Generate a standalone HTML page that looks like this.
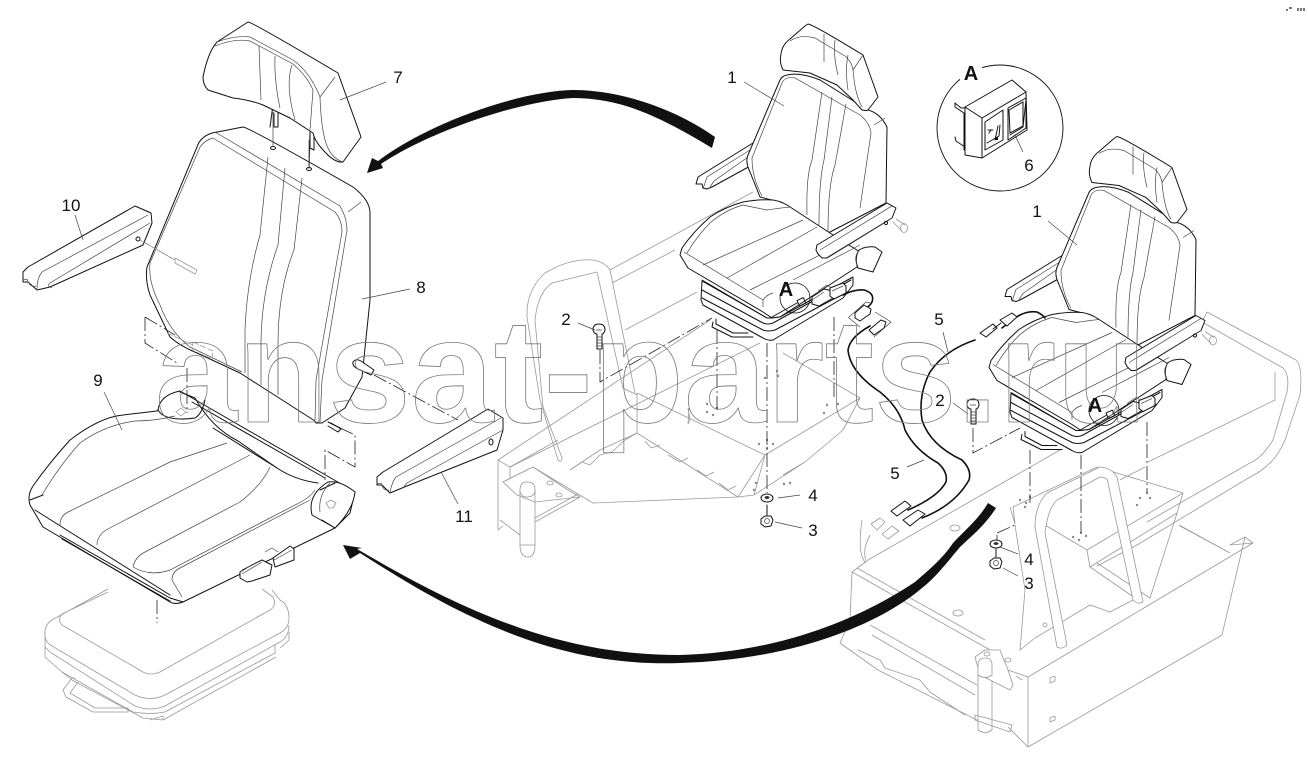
<!DOCTYPE html>
<html><head><meta charset="utf-8"><style>
html,body{margin:0;padding:0;background:#fff}
svg{display:block}
text{font-family:"Liberation Sans",sans-serif;fill:#111;font-size:17px;text-anchor:middle}
.k{fill:none;stroke:#111;stroke-width:1;stroke-linejoin:round;stroke-linecap:round}
.w{fill:#fff;stroke:#111;stroke-width:1;stroke-linejoin:round}
.t{fill:none;stroke:#444;stroke-width:.7}
.g{fill:none;stroke:#999;stroke-width:.8;stroke-linejoin:round}
.gw{fill:#fff;stroke:#999;stroke-width:.8;stroke-linejoin:round}
.d{fill:none;stroke:#222;stroke-width:.8;stroke-dasharray:14 3 2 3}
.dg{fill:none;stroke:#888;stroke-width:.7;stroke-dasharray:12 3 2 3}
.l{fill:none;stroke:#444;stroke-width:.7}
.c{fill:none;stroke:#111;stroke-width:1.6;stroke-linecap:round}
</style></head><body>
<svg width="1308" height="757" viewBox="0 0 1308 757" xmlns="http://www.w3.org/2000/svg">
<rect width="1308" height="757" fill="#fff"/>

<!-- CENTER FRAME -->
<g class="g">
<path d="M498,460 L710,320 M510,467 L760,343 M612,283 L675,250 M610,270 L753,192 M625,330 L697,292"/>
<path d="M498,460 L498,530 L503,526 M503,482 L533,467 L593,503 L738,497 L765,455 L860,398 L783,353 M637,393 L765,455 M637,393 L637,433 L738,497"/>
<path d="M738,497 L754,495 L805,462 L843,430 L860,398 M765,455 L754,495 M783,475 L805,462"/>
<path d="M498,460 L510,467 L510,482 M510,467 L558,440 M570,470 L600,450 L637,433"/>
<path d="M570,470 L582,462 L590,465 L600,455 L612,452 L625,440 L637,433"/>
<path d="M645,441 L651,448 L660,445 M668,455 L680,462 L688,458 M697,470 L706,476 L714,472 M719,483 L728,490 L736,486"/>
<path d="M558,460 Q562,463 562,458 L543,407 L535,320 Q538,292 552,283 L597,272 L623,388 L637,395"/>
<path d="M558,460 L540,400 L527,317 Q526,290 545,273 Q570,258 593,260 Q605,262 610,270 L635,393"/>
<path class="gw" d="M503,482 L533,467 L568,490 L580,497 L535,502 L517,495 Z"/>
<path d="M520,490 L520,545 Q520,557 528,557 Q535,557 535,545 L535,490"/>
<path class="gw" d="M520,490 Q520,482 527,482 Q535,482 535,490 Q535,497 527,497 Q520,497 520,490Z"/>
<path d="M535,522 L580,497 M535,518 L578,494 M500,520 L520,535 M520,545 L535,545"/>
<ellipse cx="550" cy="483" rx="3" ry="2"/><ellipse cx="559" cy="495" rx="3" ry="2"/>
<path d="M688,408 L690,420 L688,424 L689,408" />
</g>
<g fill="#888">
<circle cx="707" cy="412" r="1.2"/><circle cx="713" cy="415" r="1.2"/><circle cx="707" cy="404" r="1.2"/><circle cx="717" cy="408" r="1.2"/>
<circle cx="767" cy="440" r="1.2"/><circle cx="759" cy="444" r="1.2"/><circle cx="773" cy="444" r="1.2"/><circle cx="767" cy="448" r="1.2"/>
<circle cx="827" cy="405" r="1.2"/><circle cx="838" cy="404" r="1.2"/><circle cx="824" cy="413" r="1.2"/>
<circle cx="765" cy="378" r="1.2"/><circle cx="777" cy="371" r="1.2"/><circle cx="778" cy="376" r="1.2"/>
<circle cx="784" cy="484" r="1.2"/><circle cx="790" cy="483" r="1.2"/><circle cx="754" cy="490" r="1.2"/><circle cx="756" cy="483" r="1.2"/>
</g>

<!-- RIGHT FRAME -->
<g class="g">
<path d="M1207,312 L1296,360 Q1303,367 1300,395 L1285,440 Q1275,465 1250,477 L1137,545 L1097,566"/>
<path d="M1207,312 L1202,322 L1283,368 Q1290,375 1287,392 L1273,440 Q1262,458 1250,463 L1147,522"/>
<path d="M1148,462 L1275,400 L1275,372 M868,560 L1060,450 M1120,480 L1145,467"/>
<path d="M1010,507 L1015,524 L1013,507 L1097,467 L1183,493 L1177,513 L1090,567 L1087,550 L1183,493 M1087,550 L1045,525"/>
<path d="M1097,563 L1150,598 L1177,513 M1090,567 L1138,600"/>
<path d="M1179,525 L1230,553 L1180,526"/>
<path d="M852,572 L850,620 L840,643 L878,670 L977,720 M852,572 L990,650 L1008,670 L1028,677 L1253,543 L1245,537 L1222,635 L1028,747 L1008,727 M1028,677 L1028,747 M1245,537 L1230,545 L1253,543"/>
<path d="M857,568 L985,640 M870,625 L977,685 M872,635 L975,695 M858,650 L880,660 L885,668 L920,680 L930,692 L965,715"/>
<path d="M1015,525 L1025,590 L1020,650 L1035,638 L1090,605 L1110,612 L1133,600"/>
<path d="M1057,647 Q1062,650 1067,645 L1045,533 Q1048,508 1057,500 L1100,477 Q1108,477 1108,483 L1133,600 Q1138,605 1143,602 L1117,477 Q1112,468 1100,467 L1047,493 Q1035,505 1035,527 Z" fill="#fff"/>
<path class="gw" d="M978,670 L978,730 Q985,735 992,730 L992,670"/>
<path class="gw" d="M975,657 L985,650 L1000,650 L1008,670 L1013,685 L1010,690 L980,675 Z"/>
<path class="gw" d="M978,665 Q978,658 985,658 Q992,658 992,665 L992,675 Q985,680 978,675Z"/>
<path d="M975,715 L1012,725 L1010,732 L975,720Z"/>
<path d="M852,572 L868,560 M1016,676 L1022,680"/>
<ellipse cx="955" cy="528" rx="5" ry="3"/><ellipse cx="958" cy="613" rx="5" ry="3"/><ellipse cx="1045" cy="625" rx="2" ry="2"/>
<ellipse cx="1008" cy="660" rx="3" ry="2"/><ellipse cx="987" cy="654" rx="3" ry="2"/>
<path d="M1050,678 l5,-2 v5 l-5,2z M1050,718 l5,-2 v4 l-5,2z"/>
<path d="M862,520 Q857,555 866,563 M870,535 Q862,550 866,560" />
<path class="gw" d="M871,524 L880,518 L885,522 L877,530Z M882,534 L892,526 L899,531 L888,539Z"/>
</g>
<g fill="#888">
<circle cx="1020" cy="500" r="1.2"/><circle cx="1026" cy="503" r="1.2"/><circle cx="1030" cy="497" r="1.2"/><circle cx="1025" cy="507" r="1.2"/>
<circle cx="1081" cy="533" r="1.2"/><circle cx="1086" cy="536" r="1.2"/><circle cx="1073" cy="537" r="1.2"/><circle cx="1079" cy="540" r="1.2"/>
<circle cx="1147" cy="493" r="1.2"/><circle cx="1140" cy="498" r="1.2"/><circle cx="1150" cy="498" r="1.2"/><circle cx="1137" cy="505" r="1.2"/>
</g>

<!-- SEAT SYMBOL -->
<g id="seat">
<!-- ghost pivot -->
<path class="g" d="M893,222 L902,231 M896,219 L905,225"/>
<ellipse cx="904" cy="228" rx="3.500" ry="4.500" class="g"/>
<!-- left arm -->
<path class="w" d="M753,143 L698,177 L696,184 L702,184 L703,188 L707,189 L712,187 L752,165 Z"/>
<path class="t" d="M750,150 L707,177 L703,189 M748,157 L714,181 L710,187"/>
<!-- back -->
<path class="w" d="M787,75 Q800,72 820,80 L868,110 Q880,113 887,127 L886,203 L828,233 L783,203 L760,197 L750,172 Q745,162 748,155 L780,80 Q782,76 787,75Z"/>
<path class="t" d="M752,158 L782,83 Q785,76 795,78 L860,115 Q870,123 871,133 L860,208 M752,158 Q752,178 762,196 M885,118 L874,125"/>
<path class="t" d="M822,92 L812,160 Q806,175 807,215 M832,97 L824,160 Q819,180 819,225 M846,104 L835,165 Q828,185 828,232"/>
<!-- headrest -->
<path class="w" d="M808,24 Q814,25 863,55 L878,97 L868,110 Q866,111 862,110 L853,100 L837,85 L810,73 L783,70 Q779,62 781,54 Q782,45 790,39 L805,26 Z"/>
<path class="t" d="M790,41 Q800,34 815,38 L845,56 Q852,62 853,70 Q855,95 862,107 M824,34 L824,62 M835,40 Q833,55 838,75 M848,55 Q845,70 848,90 M853,70 L863,55"/>
<!-- cushion -->
<path class="w" d="M682,248 Q693,232 710,217 Q725,207 743,202 Q760,199 773,200 Q780,201 787,205 L830,233 L860,252 L857,267 L780,317 L772,318 L763,312 L688,268 L680,255 Z"/>
<path class="t" d="M687,253 Q697,236 710,223 Q725,210 743,205 Q757,208 767,210 Q780,208 790,207 M684,252 L763,300 M703,265 L803,220 M727,278 L817,227 M750,290 L860,235 M793,280 L860,245 M763,307 L763,300 Q766,295 773,293"/>
<!-- right arm -->
<path class="w" d="M887,203 L817,245 L816,250 L818,254 L822,258 L827,258 L892,218 L896,208 Z"/>
<path class="t" d="M892,206 L820,250 M826,258 L892,218"/>
<circle cx="886" cy="223" r="1.6" class="k"/>
<!-- knob -->
<path class="w" d="M875,247 L882,252 L873,272 L858,268 Q854,258 859,250 Q866,246 875,247 Z"/>
<path class="t" d="M866,247 A12,12 0 0 0 858,266"/>
<!-- base -->
<path class="k" d="M713,322 L712,327 L732,337 L753,337 M716,319 L716,324 L733,333 L748,333"/>
<path class="w" d="M702,281 L701,300 L703,305 L763,338 Q768,341 773,340 L843,298 L853,285 L853,277 L780,317 L772,318 L767,318 Z"/>
<path class="k" d="M702,290 L763,323 Q768,325 773,323 L851,280 M702,298 L763,330 Q768,332 775,330 L847,292"/>
<path class="k" stroke-width="1.500" d="M702,280 L767,318"/>
<!-- switches -->
<path class="w" d="M812,297 L824,289 L833,291 L833,298 L819,306 L812,304Z"/>
<path class="w" d="M830,288 L843,283 L846,286 L846,293 L834,299 L830,296Z"/>
<path class="t" d="M812,300 L824,292 M832,291 L843,286 M818,291 L827,285 L832,288"/>
<!-- circle A -->
<circle cx="795" cy="298" r="15" fill="none" stroke="#111" stroke-width=".8"/>
<rect x="798" y="299" width="7" height="6" class="k" transform="rotate(-25 801 302)"/>
<path class="k" stroke-width="1.400" d="M772,317 L797,303"/>
</g>
<use href="#seat" x="309" y="112.5"/>

<!-- dash lines center -->
<path class="d" d="M767,343 L767,493 M717,330 L717,410 M834,317 L834,400"/>
<path class="d" d="M600,350 L600,382 L712,318"/>
<path class="k" stroke-width=".8" d="M767,505 L767,515"/>
<!-- bolt 2 center -->
<g id="bolt">
<path class="w" d="M593,330 Q593,324 599,324 Q605,324 605,330 Q604,334 602,334 L602,349 L597,349 L597,334 Q594,334 593,330Z"/>
<path class="t" d="M597,337 h5 M597,340 h5 M597,343 h5 M597,346 h5 M596,330 h6"/>
</g>
<use href="#bolt" x="374" y="75"/>
<!-- washer/nut center -->
<ellipse cx="767" cy="498" rx="6" ry="4" class="w"/><ellipse cx="767" cy="497.500" rx="2.500" ry="1.500" fill="#333"/>
<path class="w" d="M761,519 L765,516 L771,516 L773,520 L771,526 L765,527 L761,524Z"/><circle cx="767" cy="521" r="2.500" class="t"/>
<!-- right dash lines -->
<path class="d" d="M1030,450 L1030,503 M1081,455 L1081,533 M1147,422 L1147,493 M973,428 L973,453 L1020,428 M997,535 L997,547 M997,533 L1015,525"/>
<ellipse cx="996" cy="544" rx="6" ry="4" class="w"/><ellipse cx="996" cy="543.500" rx="2.500" ry="1.500" fill="#333"/>
<path class="w" d="M990,561 L994,558 L1000,558 L1002,562 L1000,568 L994,569 L990,566Z"/><circle cx="996" cy="563" r="2.500" class="t"/>
<path class="k" stroke-width=".8" d="M996,549 L996,557"/>

<!-- CABLES -->
<path class="c" d="M843,295 Q855,289 864,290 Q875,293 872,302 Q870,306 866,308"/>
<path class="c" d="M870,326 Q850,337 848,350 Q850,372 880,392 Q900,408 905,430 Q915,450 938,463 Q948,472 946,482 Q938,497 908,510"/>
<path class="c" d="M975,340 Q945,350 930,372 Q918,395 922,420 Q930,445 962,460 Q972,470 969,480 Q955,505 922,518"/>
<path class="c" d="M1002,328 L1012,320 Q1025,310 1037,312 Q1043,315 1045,318" />
<path class="w" d="M855,313 L864,305 L871,309 L870,314 L860,321 L855,318Z"/>
<path class="w" d="M869,330 L881,320 L886,322 L884,328 L874,335 Z"/>
<path class="t" d="M848,318 L866,302 L870,303 M849,318 L860,327 M875,312 L891,322 L874,337"/>
<path class="w" d="M980,333 L993,324 L997,328 L986,337Z"/>
<path class="w" d="M1000,320 L1012,313 L1017,317 L1007,326Z"/>
<path class="k" d="M993,329 L1001,323"/>
<path class="w" d="M891,511 L905,501 L911,506 L897,516Z"/>
<path class="w" d="M903,520 L918,510 L925,514 L910,526Z"/>

<!-- LEFT: pedestal -->
<g class="g">
<path d="M108,589 L52,620 Q44,625 45,635 Q45,642 52,646 L135,695 Q150,702 165,695 L280,633 Q289,628 289,618 Q289,605 280,600 L272,590 M262,589 L273,597 Q277,606 270,610 L160,672 Q150,676 143,672 L62,625 Q57,620 62,614 L108,592"/>
<path d="M45,633 L45,647 L50,652 L135,706 Q150,712 165,706 L280,642 Q289,637 289,625"/>
<path d="M45,647 L45,657 L62,672 L133,712 Q150,715 165,712 L275,653 L275,645 M289,632 L289,640 L280,648"/>
<path d="M62,672 L72,680 L143,718 L163,720 L276,657"/>
<path d="M75,678 L72,678 L63,690 L66,697 L93,712 L128,712 L128,708 L95,708 L70,693 L78,682"/>
<path d="M150,720 L163,716 L163,720"/>
</g>
<path class="d" d="M157,600 L157,623"/>

<!-- SEAT 9 -->
<path class="w" d="M158,410 Q160,395 180,391 L355,492 L350,513 L335,528 L183,602 Q175,605 170,602 L43,527 L30,505 Q27,495 33,486 Q50,462 70,440 Q100,417 123,415 L157,411Z"/>
<path class="k" d="M192,402 L325,478 M180,392 L195,398 Q212,428 238,441 L277,468 Q295,480 318,483"/>
<path class="k" d="M158,410 Q165,422 195,418 Q202,414 205,400"/>
<path class="k" stroke-width="1.600" d="M213,428 L277,468"/>
<path class="t" d="M42,495 Q60,465 80,443 Q105,425 135,421 Q155,421 175,416"/>
<path class="k" d="M30,500 L43,495 M35,510 L170,595"/>
<path class="t" d="M60,525 Q60,516 68,512 L170,462 L227,443 M97,545 Q97,536 106,530 L250,455 M133,567 Q135,557 145,552 L240,502 Q262,485 270,467 M133,567 Q150,577 170,570 L295,505 Q310,498 315,490"/>
<path class="t" d="M182,597 L172,580 Q172,572 180,568 L310,500"/>
<path class="k" stroke-width="1.600" d="M62,539 L170,601"/>
<path class="k" d="M60,535 L170,598 L183,602"/>
<path class="g" d="M176,412 l5,-4 5,4 -5,4z"/>
<!-- roller -->
<path class="w" d="M328,482 Q340,480 355,492 Q353,510 335,528 L312,515 Q307,495 328,482Z"/>
<path class="k" d="M322,520 L335,528 M320,490 L335,483"/>
<path class="t" d="M330,483 Q318,495 320,512"/>
<path class="g" d="M326,503 l5,-3 5,3 -3,5 -4,0 z"/>
<!-- switches -->
<path class="w" d="M240,572 L250,566 L262,560 L272,565 L270,575 L252,581 L247,582 L240,578Z"/>
<path class="w" d="M273,558 L290,546 L294,549 L294,560 L275,567Z"/>
<path class="t" d="M242,570 L252,565 M265,552 L272,548 L278,552 M242,574 L262,562 M274,560 L292,550"/>

<!-- BACK 8 -->
<path class="w" d="M243,127 Q248,127 353,187 Q370,200 370,213 L370,300 L362,377 L345,408 L322,423 L316,423 L315,421 L240,373 L197,353 Q180,346 170,337 L150,295 Q145,280 147,267 L197,147 Q200,137 212,133Z"/>
<path class="t" d="M215,132 L340,206 Q347,218 347,230 L322,380 L320,422 M213,138 Q205,140 200,147 L150,263 Q148,282 160,305 Q170,332 190,347 L242,372 M213,138 L335,212 Q342,220 342,232 L316,380 L315,420"/>
<path class="t" d="M268,157 L260,235 Q247,280 245,330 L245,373 M285,168 L278,245 Q262,290 261,340 L261,385 M302,178 L294,250 Q278,290 278,345 L278,395"/>
<path class="t" d="M348,212 L361,202 M362,299 L410,289"/>
<path class="k" d="M270,127 L273,105 M310,132 L309,168"/>
<ellipse cx="273" cy="148" rx="2.500" ry="1.500" class="k"/><ellipse cx="309" cy="169" rx="2.500" ry="1.500" class="k"/>
<path class="t" d="M273,112 L273,147 M309,140 L309,168"/>
<path class="k" d="M274,113 L274,127 L278,127 L278,113"/>
<path class="k" d="M310,133 L310,148 L314,150 L314,134"/>
<!-- pin -->
<path class="w" d="M353,362 Q356,358 361,361 L374,370 L371,375 L358,369 Q352,366 353,362Z"/>
<path class="d" d="M374,375 L458,420"/>
<path class="k" d="M328,422 L340,428"/>
<path class="d" d="M340,428 L355,435 L355,467 L325,450 L325,480 M145,317 L145,343 L177,363 M145,317 L175,335 M187,368 L187,413"/>
<path class="k" d="M331,423 L341,429 L338,432 L328,426"/>
<!-- ghost pin -->
<path class="g" d="M175,258 L197,270 L195,274 L175,263Z M140,240 L175,260"/>
<path class="g" d="M193,342 L213,351 L212,359 L192,350Z M167,333 L193,345" stroke-dasharray="6 2"/>

<!-- HEADREST 7 -->
<path class="w" d="M248,22 Q252,22 338,73 L361,137 L343,162 Q335,163 325,152 Q315,142 313,133 L290,118 L263,105 Q250,100 233,98 L208,90 Q203,85 203,77 Q208,52 217,42 Z"/>
<path class="t" d="M217,42 Q235,35 250,37 L293,60 Q310,72 320,97 Q321,125 325,140 Q330,158 343,162 M215,46 Q235,38 250,41 L293,64 Q307,76 313,90 L310,130 M320,97 L335,77"/>
<path class="t" d="M259,46 L261,100 M275,56 Q274,80 280,108 M292,65 Q285,85 295,120"/>
<path class="t" d="M340,100 L386,82"/>
<!-- ARM 10 -->
<path class="w" d="M135,206 L151,213 L152,223 L143,245 L50,287 L37,290 L28,282 L23,282 L23,272 L28,267 Z"/>
<path class="t" d="M148,215 L42,272 Q37,278 37,289 M150,223 L50,283 Q46,286 52,288 M23,280 L27,279 Q30,288 36,286"/>
<circle cx="138" cy="239" r="2" class="k"/>
<path class="dg" d="M140,240 L175,260"/>
<!-- ARM 11 -->
<path class="w" d="M488,409 L503,418 L503,430 L497,450 L402,488 L390,493 L382,485 L377,485 L377,477 L383,472Z"/>
<path class="t" d="M501,418 L396,477 Q392,482 390,492 M503,430 L407,483 L403,488 M377,484 L381,483 Q384,492 389,490"/>
<ellipse cx="491" cy="442" rx="2" ry="3" class="k"/>

<!-- INSET -->
<circle cx="1000" cy="128" r="63" fill="#fff" stroke="#111" stroke-width=".9"/>
<rect x="960" y="60" width="22" height="26" fill="#fff"/>
<path class="w" d="M965,107 L1012,80 L1026,92 L1027,130 L982,158 L965,155Z"/>
<path class="k" d="M965,107 L982,118 L1026,92 M982,118 L982,158"/>
<path class="k" d="M965,108 L961,108 L955,103 L955,107 L964,113 L964,150 M955,137 L956,141 L965,147"/>
<path class="k" d="M985,122 L1003,110 L1003,140 L985,150Z M1008,108 L1026,98 L1026,128 L1008,140Z"/>
<path fill="#fff" stroke="#111" d="M1009,110 L1023,102 L1023,126 L1010,133Z"/>
<path class="k" stroke-width="1.800" d="M1026,100 L1023,127 L1010,135"/>
<path class="k" d="M988,130 h5 M989,133 l2,-3 M987,143 L999,136 L1000,125 M998,126 L995,140"/>
<rect x="995" y="137" width="3" height="3" fill="#111"/>

<!-- ARROWS -->
<path fill="#111" d="M715,137 C680,112 625,90 573,90 C520,91 430,122 378,161 L372,158 L367,173 L383,168 L381,164 C430,131 520,101 573,98 C625,98 665,120 712,148 Z"/>
<path fill="#111" d="M988,503 L996,508 C985,525 975,533 960,547 C945,565 935,578 922,588 C885,620 800,660 680,663 C620,665 570,655 520,637 C460,615 410,585 360,553 L350,559 L343,545 L362,548 L357,549 C410,580 460,607 520,628 C570,645 620,655 680,655 C790,652 870,612 915,582 C935,565 945,555 953,543 C965,530 978,520 988,503 Z"/>

<!-- LEADERS -->
<path class="l" d="M75,215 L83,240 M104,392 L122,430 M441,472 L458,504 M744,82 L784,106 M578,323 L595,330 M778,498 L800,495 M775,522 L802,528 M943,332 L948,352 M907,467 L924,460 M953,403 L968,414 M1000,547 L1018,554 M1003,568 L1018,576 M1015,135 L1023,152 M1048,221 L1077,245"/>

<!-- WATERMARK -->
<text x="155" y="422" style="font-size:148px;font-weight:bold;text-anchor:start;fill:none;stroke:#777;stroke-width:.8" textLength="992" lengthAdjust="spacing">ansat-parts.ru</text>

<!-- LABELS -->
<text x="398" y="83">7</text><text x="71" y="211">10</text><text x="421" y="293">8</text><text x="98" y="386">9</text><text x="464" y="522">11</text>
<text x="732" y="83">1</text><text x="566" y="325">2</text><text x="813" y="501">4</text><text x="813" y="536">3</text>
<text x="939" y="325">5</text><text x="895" y="479">5</text><text x="940" y="406">2</text><text x="1029" y="565">4</text><text x="1029" y="589">3</text>
<text x="1029" y="171">6</text><text x="1037" y="217">1</text>
<text x="971" y="80" style="font-size:20px;font-weight:bold">A</text>
<text x="786" y="296" style="font-size:20px;font-weight:bold">A</text>
<text x="1095" y="412" style="font-size:20px;font-weight:bold">A</text>

<!-- corner marks -->
<g fill="#777"><rect x="1286" y="9" width="2" height="2"/><rect x="1289" y="7" width="3" height="2"/><rect x="1297" y="8" width="2" height="3"/><rect x="1300" y="8" width="2" height="3"/><rect x="1303" y="8" width="2" height="3"/></g>
</svg>
</body></html>
